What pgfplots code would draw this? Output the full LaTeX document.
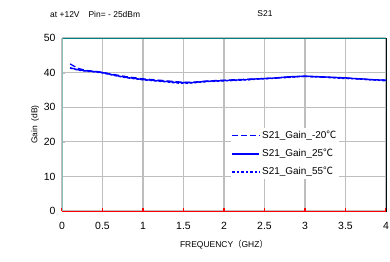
\documentclass[border=0pt]{standalone}
\usepackage{fontspec}
\setmainfont{Liberation Sans}
\newfontfamily\cjk{Noto Sans CJK SC}
\usepackage{pgfplots}
\pgfplotsset{compat=1.18}
\definecolor{frameteal}{RGB}{0,128,128}
\definecolor{frameleft}{RGB}{140,190,190}
\definecolor{gridgray}{RGB}{190,190,190}
\definecolor{curveblue}{RGB}{0,0,255}
\begin{document}
\begin{tikzpicture}
\useasboundingbox (-62bp,-51bp) rectangle (328bp,211bp);
\begin{axis}[
  at={(0,0)}, anchor=south west,
  scale only axis, width=324bp, height=173bp,
  xmin=0, xmax=4, ymin=0, ymax=50,
  xtick={0,0.5,...,4}, ytick={0,10,...,50},
  xticklabels={0,0.5,1,1.5,2,2.5,3,3.5,4},
  xmajorgrids, ymajorgrids,
  every major grid/.style={draw=gridgray, line width=1.2pt},
  tick align=inside, xtick pos=bottom, ytick pos=left,
  major tick length=3.5pt,
  every x tick/.style={draw=red, line width=1.2pt},
  every y tick/.style={draw=gridgray},
  ticklabel style={font=\fontsize{10.5}{12}\selectfont},
  /pgf/number format/assume math mode=true,
  xticklabel style={yshift=-8pt},
  yticklabel style={xshift=-3pt},
  xlabel={FREQUENCY{\cjk （}GHZ{\cjk ）}},
  xlabel style={font=\fontsize{8.5}{10}\selectfont, yshift=-4pt},
  ylabel={Gain\ \ (dB)},
  ylabel style={font=\fontsize{8.5}{10}\selectfont, yshift=-2pt},
  legend style={at={(axis cs:2.08,24)}, anchor=north west, draw=none, fill=white,
    font=\fontsize{10}{12}\selectfont, row sep=5pt, legend cell align=left,
    inner sep=1pt},
  legend image code/.code={\draw[curveblue, line width=1.6pt, #1] (0cm,0cm) -- (0.95cm,0cm);},
]
\addplot[curveblue, line width=1.3pt, dash pattern=on 6pt off 3pt] coordinates {
(0.1,42.5)(0.2,41.2)(0.3,40.6)(0.4,40.4)(0.5,40.1)(0.6,39.6)(0.7,39.2)(0.8,38.8)(0.9,38.5)(1.0,38.2)
(1.1,38.0)(1.2,37.8)(1.3,37.6)(1.4,37.4)(1.5,37.2)(1.6,37.2)(1.7,37.4)(1.8,37.6)(1.9,37.7)(2.0,37.8)
(2.1,37.9)(2.2,38.0)(2.3,38.1)(2.4,38.2)(2.5,38.3)(2.6,38.4)(2.7,38.5)(2.8,38.7)(2.9,38.8)(3.0,38.9)
(3.1,38.8)(3.2,38.7)(3.3,38.6)(3.4,38.5)(3.5,38.4)(3.6,38.3)(3.7,38.1)(3.8,38.0)(3.9,37.9)(4.0,37.8)};
\addlegendentry{S21\_Gain\_-20{\cjk ℃}}
\addplot[curveblue, line width=1.3pt] coordinates {
(0.1,41.4)(0.2,40.8)(0.3,40.5)(0.4,40.3)(0.5,40.0)(0.6,39.5)(0.7,39.0)(0.8,38.6)(0.9,38.3)(1.0,38.0)
(1.1,37.8)(1.2,37.6)(1.3,37.4)(1.4,37.2)(1.5,37.1)(1.6,37.1)(1.7,37.3)(1.8,37.5)(1.9,37.6)(2.0,37.7)
(2.1,37.8)(2.2,37.9)(2.3,38.0)(2.4,38.2)(2.5,38.3)(2.6,38.4)(2.7,38.6)(2.8,38.8)(2.9,38.9)(3.0,39.0)
(3.1,38.9)(3.2,38.8)(3.3,38.7)(3.4,38.6)(3.5,38.5)(3.6,38.3)(3.7,38.2)(3.8,38.0)(3.9,37.9)(4.0,37.8)};
\addlegendentry{S21\_Gain\_25{\cjk ℃}}
\addplot[curveblue, line width=1.3pt, dash pattern=on 2.5pt off 2pt] coordinates {
(0.1,41.3)(0.2,40.7)(0.3,40.4)(0.4,40.2)(0.5,39.9)(0.6,39.4)(0.7,38.9)(0.8,38.5)(0.9,38.2)(1.0,37.9)
(1.1,37.7)(1.2,37.5)(1.3,37.3)(1.4,37.0)(1.5,36.9)(1.6,37.0)(1.7,37.2)(1.8,37.4)(1.9,37.5)(2.0,37.6)
(2.1,37.7)(2.2,37.8)(2.3,37.9)(2.4,38.1)(2.5,38.2)(2.6,38.3)(2.7,38.5)(2.8,38.6)(2.9,38.8)(3.0,38.9)
(3.1,38.8)(3.2,38.7)(3.3,38.6)(3.4,38.4)(3.5,38.3)(3.6,38.2)(3.7,38.1)(3.8,37.9)(3.9,37.8)(4.0,37.6)};
\addlegendentry{S21\_Gain\_55{\cjk ℃}}
\draw[frameteal, line width=1pt] (rel axis cs:0,1) -- (rel axis cs:1,1) -- (rel axis cs:1,0);
\draw[frameleft, line width=1pt] (rel axis cs:0,0) -- (rel axis cs:0,1);
\draw[red, line width=1pt] (rel axis cs:0,0) -- (rel axis cs:1,0);
\end{axis}
\node[anchor=west, font=\fontsize{8.5}{10}\selectfont, inner sep=0pt] at (-12bp,197bp) {at +12V\hspace{9pt}Pin= - 25dBm};
\node[font=\fontsize{8.5}{10}\selectfont, inner sep=0pt] at (203bp,197bp) {S21};
\end{tikzpicture}
\end{document}
